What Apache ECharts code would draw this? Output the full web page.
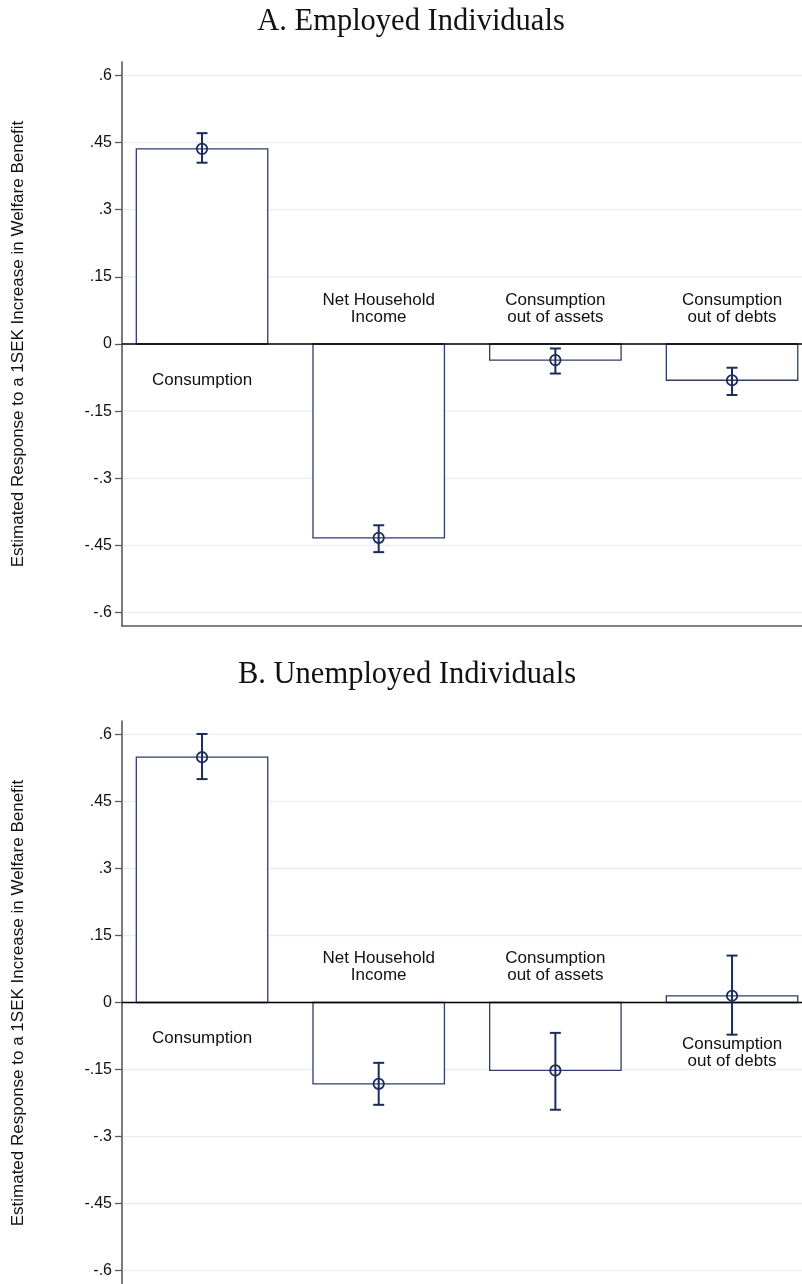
<!DOCTYPE html>
<html>
<head>
<meta charset="utf-8">
<script src="https://cdn.jsdelivr.net/npm/echarts@6/dist/echarts.min.js"></script>
<style>
html,body{margin:0;padding:0;background:#fff;}
#chart{width:802px;height:1284px;}
</style>
</head>
<body>
<div id="chart"></div>
<script>
// ---- data ----
const categories = ['Consumption', 'Net Household\nIncome', 'Consumption\nout of assets', 'Consumption\nout of debts'];
const panelTitles = ['A. Employed Individuals', 'B. Unemployed Individuals'];
const yAxisTitle = 'Estimated Response to a 1SEK Increase in Welfare Benefit';
const yTicks = [-0.6, -0.45, -0.3, -0.15, 0, 0.15, 0.3, 0.45, 0.6];

const employedEst = [0.436, -0.433, -0.036, -0.081];
const employedLo  = [0.405, -0.465, -0.066, -0.114];
const employedHi  = [0.471, -0.405, -0.010, -0.053];

const unemployedEst = [0.549, -0.182, -0.152, 0.015];
const unemployedLo  = [0.500, -0.229, -0.240, -0.072];
const unemployedHi  = [0.601, -0.135, -0.068, 0.105];

// ---- styles ----
const SANS = "'Liberation Sans', Arial, sans-serif";
const SERIF = "'Liberation Serif', 'Times New Roman', serif";
const BAR_LINE = '#2e3d6b';
const ERR = '#1c2b5a';
const AXIS = '#5a5a5a';
const GRID = '#e6eef3';
const BAR_FRAC = 0.744;
const Y_MIN = -0.63, Y_MAX = 0.63;
const X_MIN = 0.547, X_MAX = 4.396;

const chart = echarts.init(document.getElementById('chart'), null, {renderer: 'canvas'});

const panels = [
  {est: employedEst, lo: employedLo, hi: employedHi, top: 62, titleX: 411, titleY: 22, bottomLine: true},
  {est: unemployedEst, lo: unemployedLo, hi: unemployedHi, top: 721, titleX: 407, titleY: 675, bottomLine: false}
];
const GRID_H = 564;

function fmtTick(v) {
  if (Math.abs(v) < 1e-9) return '0';
  return String(+v.toFixed(2)).replace('0.', '.');
}

const grids = [], xAxes = [], yAxes = [], series = [], graphics = [];

panels.forEach((p, k) => {
  grids.push({left: 122, right: 0, top: p.top, height: GRID_H, containLabel: false});
  xAxes.push({
    type: 'value', gridIndex: k, min: X_MIN, max: X_MAX, position: 'bottom',
    axisLine: {show: p.bottomLine, onZero: false, lineStyle: {color: AXIS, width: 1.6}},
    axisTick: {show: false}, axisLabel: {show: false}, splitLine: {show: false}
  });
  yAxes.push({
    type: 'value', gridIndex: k, min: Y_MIN, max: Y_MAX,
    axisLine: {show: true, onZero: false, lineStyle: {color: AXIS, width: 1.6}},
    axisTick: {show: true, length: 7, customValues: yTicks, lineStyle: {color: AXIS, width: 1.3}},
    axisLabel: {show: true, customValues: yTicks, formatter: fmtTick, margin: 10,
      color: '#111', fontFamily: SANS, fontSize: 16},
    splitLine: {show: false}
  });

  // gridlines
  series.push({
    type: 'custom', xAxisIndex: k, yAxisIndex: k, z: 1, silent: true,
    data: yTicks.map(v => [v]),
    encode: {y: 0},
    renderItem: function (params, api) {
      const cs = params.coordSys;
      const y = api.coord([X_MIN, api.value(0)])[1];
      return {type: 'line', shape: {x1: cs.x + 1, y1: y, x2: cs.x + cs.width, y2: y},
        style: {stroke: GRID, lineWidth: 1.3}};
    }
  });

  const rows = categories.map((c, i) => [i + 1, p.est[i], p.lo[i], p.hi[i], i]);

  // bars
  series.push({
    type: 'custom', xAxisIndex: k, yAxisIndex: k, z: 2, silent: true,
    data: rows, encode: {x: 0, y: 1},
    renderItem: function (params, api) {
      const x = api.value(0), v = api.value(1);
      const p0 = api.coord([x, 0]), p1 = api.coord([x, v]);
      const w = api.size([BAR_FRAC, 0])[0];
      return {type: 'rect',
        shape: {x: p0[0] - w / 2, y: Math.min(p0[1], p1[1]), width: w, height: Math.abs(p1[1] - p0[1])},
        style: {fill: '#fff', stroke: BAR_LINE, lineWidth: 1.3}};
    }
  });

  // zero line
  series.push({
    type: 'custom', xAxisIndex: k, yAxisIndex: k, z: 3, silent: true,
    data: [[0]], encode: {y: 0},
    renderItem: function (params, api) {
      const cs = params.coordSys;
      const y = api.coord([X_MIN, 0])[1];
      return {type: 'line', shape: {x1: cs.x, y1: y, x2: cs.x + cs.width, y2: y},
        style: {stroke: '#000', lineWidth: 1.6}};
    }
  });

  // error bars, markers, labels
  series.push({
    type: 'custom', xAxisIndex: k, yAxisIndex: k, z: 4, silent: true,
    data: rows, encode: {x: 0, y: [1, 2, 3]},
    renderItem: function (params, api) {
      const x = api.value(0), v = api.value(1), lo = api.value(2), hi = api.value(3);
      const idx = api.value(4);
      const pv = api.coord([x, v]), pl = api.coord([x, lo]), ph = api.coord([x, hi]);
      const pz = api.coord([x, 0]);
      const cap = 5.5;
      const label = categories[idx];
      const nLines = label.split('\n').length;
      let ty, va;
      if (v >= 0) { ty = pz[1] + 36 + (nLines - 1) * 14; va = 'middle'; }
      else { ty = pz[1] - 18.5; va = 'bottom'; }
      return {type: 'group', children: [
        {type: 'line', shape: {x1: pl[0], y1: pl[1], x2: ph[0], y2: ph[1]}, style: {stroke: ERR, lineWidth: 2}},
        {type: 'line', shape: {x1: pl[0] - cap, y1: pl[1], x2: pl[0] + cap, y2: pl[1]}, style: {stroke: ERR, lineWidth: 2}},
        {type: 'line', shape: {x1: ph[0] - cap, y1: ph[1], x2: ph[0] + cap, y2: ph[1]}, style: {stroke: ERR, lineWidth: 2}},
        {type: 'circle', shape: {cx: pv[0], cy: pv[1], r: 5.2}, style: {fill: null, stroke: ERR, lineWidth: 1.8}},
        {type: 'text', x: pz[0], y: ty, style: {text: label, fill: '#111', font: '17px ' + SANS,
          align: 'center', verticalAlign: va, lineHeight: 17}}
      ]};
    }
  });

  graphics.push({type: 'text', x: p.titleX, y: p.titleY,
    style: {text: panelTitles[k], fill: '#111', font: '30.5px ' + SERIF, align: 'center', verticalAlign: 'middle'}});
  graphics.push({type: 'text', x: 18, y: p.top + GRID_H / 2, rotation: Math.PI / 2,
    style: {text: yAxisTitle, fill: '#111', font: '17px ' + SANS, align: 'center', verticalAlign: 'middle'}});
});

chart.setOption({
  animation: false,
  backgroundColor: '#fff',
  grid: grids, xAxis: xAxes, yAxis: yAxes, series: series,
  graphic: graphics
});
</script>
</body>
</html>
